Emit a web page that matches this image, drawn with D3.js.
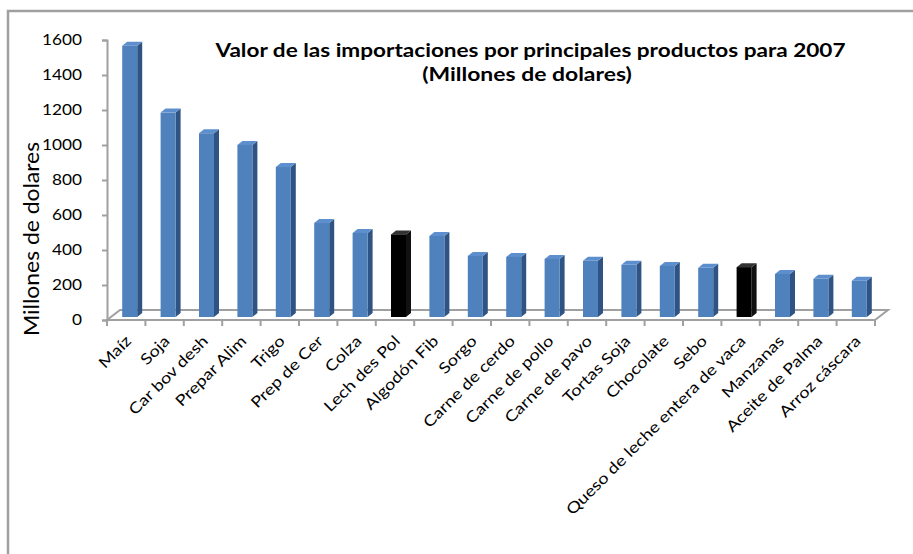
<!DOCTYPE html>
<html><head><meta charset="utf-8">
<script src="https://cdn.jsdelivr.net/npm/d3@7"></script>
<style>body{margin:0;background:#fff}svg{display:block}</style>
</head><body>
<svg id="c" width="913" height="554"></svg>
<script>
const categories = ["Maíz","Soja","Car bov desh","Prepar Alim","Trigo","Prep de Cer","Colza","Lech des Pol","Algodón Fib","Sorgo","Carne de cerdo","Carne de pollo","Carne de pavo","Tortas Soja","Chocolate","Sebo","Queso de leche entera de vaca","Manzanas","Aceite de Palma","Arroz cáscara"];
const values = [1550,1168,1050,983,857,537,480,472,463,349,343,332,321,298,292,281,285,246,218,207];
const highlighted = ["Lech des Pol","Queso de leche entera de vaca"];
const yTicks = [0,200,400,600,800,1000,1200,1400,1600];
const titleLines = ["Valor de las importaciones por principales productos para 2007","(Millones de dolares)"];
const yTitle = "Millones de dolares";

const svg = d3.select("#c");
const font = "Lato, 'Open Sans', sans-serif";
const gray = "#a0a0a0";
const stretch = 1.2; // reference text is horizontally wide

// frame
svg.append("path").attr("d","M8,554 L8,11 L913,11").attr("fill","none").attr("stroke",gray).attr("stroke-width",2.5);

const x = d3.scaleBand().domain(categories).range([107,875]);
const y = d3.scaleLinear().domain([0,1600]).range([320,40]);
const fdx = 13, fdy = -10; // floor depth

// floor
const y0 = y(0);
svg.append("path")
  .attr("d",`M${x.range()[0]},${y0} L${x.range()[1]},${y0} L${x.range()[1]+fdx},${y0+fdy} L${x.range()[0]+fdx},${y0+fdy} Z`)
  .attr("fill","#fff").attr("stroke",gray).attr("stroke-width",2);

// category boundary ticks
const bounds = categories.map(c=>x(c)).concat([x.range()[1]]);
svg.append("g").selectAll("line").data(bounds).join("line")
  .attr("x1",d=>d).attr("x2",d=>d).attr("y1",y0).attr("y2",y0+6)
  .attr("stroke",gray).attr("stroke-width",2);

// y axis
const ya = svg.append("g").attr("transform","translate(107,0)")
  .call(d3.axisLeft(y).tickValues(yTicks).tickSize(5).tickFormat(d3.format("d")));
ya.select(".domain").attr("stroke",gray).attr("stroke-width",2);
ya.selectAll(".tick line").attr("stroke",gray).attr("stroke-width",2);
ya.selectAll(".tick text").attr("font-family",font).attr("font-size",15).attr("fill","#000")
  .attr("x",0).attr("transform",`translate(-25,0) scale(1.15,1)`);

// bars
const bw = 15, sx = 3.5, sy = -3, ddx = 5, ddy = -4;
const bars = svg.append("g");
categories.forEach((c,i)=>{
  const v = values[i];
  const hl = highlighted.includes(c);
  const x0 = x(c) + (x.bandwidth()-bw)/2 + sx;
  const x1 = x0 + bw;
  const yt = y(v) + sy, yb = y(0) + sy;
  const front = hl ? "#000" : "#4f81bd";
  const side = hl ? "#111" : "#2f5382";
  const top = hl ? "#333" : "#5d8fce";
  bars.append("path").attr("d",`M${x1},${yt} L${x1+ddx},${yt+ddy} L${x1+ddx},${yb+ddy} L${x1},${yb} Z`).attr("fill",side);
  bars.append("path").attr("d",`M${x0},${yt} L${x0+ddx},${yt+ddy} L${x1+ddx},${yt+ddy} L${x1},${yt} Z`).attr("fill",top);
  bars.append("rect").attr("x",x0).attr("y",yt).attr("width",bw).attr("height",yb-yt).attr("fill",front);
});

// x labels
svg.append("g").selectAll("text").data(categories).join("text")
  .attr("transform",d=>`translate(${x(d)+x.bandwidth()/2+6},${y0+22}) rotate(-45) scale(${stretch},1)`)
  .attr("text-anchor","end").attr("font-family",font).attr("font-size",15.3).attr("fill","#000")
  .text(d=>d);

// title
svg.append("g").selectAll("text").data(titleLines).join("text")
  .attr("transform",(d,i)=>`translate(${i===0?530.5:527},${57+i*24}) scale(${i===0?1.22:1.24},1)`)
  .attr("text-anchor","middle")
  .attr("font-family",font).attr("font-weight","bold").attr("font-size",18.5).attr("fill","#000")
  .text(d=>d);

// y title
svg.append("text").attr("transform","translate(39,239) rotate(-90) scale(1.09,1)").attr("text-anchor","middle")
  .attr("font-family",font).attr("font-size",21).attr("fill","#000").text(yTitle);
</script>
</body></html>
